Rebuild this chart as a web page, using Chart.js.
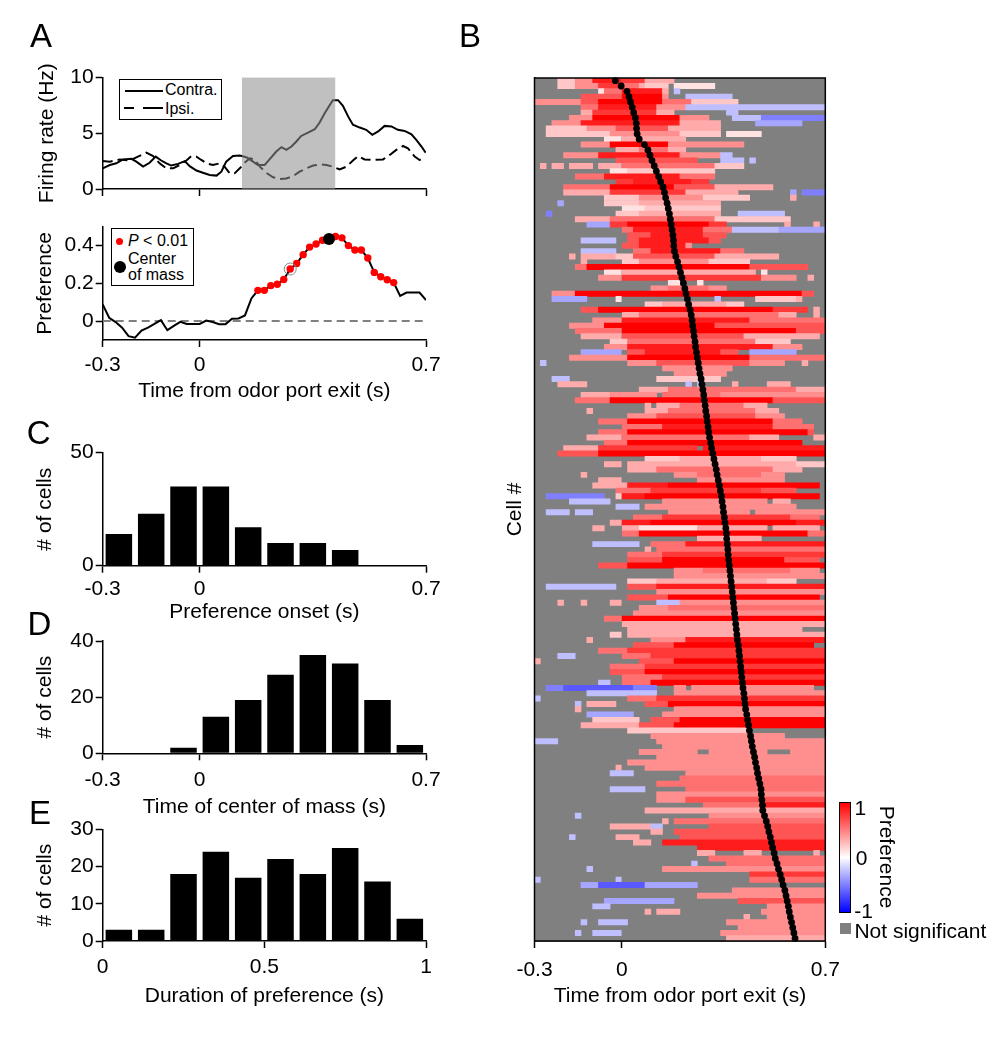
<!DOCTYPE html>
<html>
<head>
<meta charset="utf-8">
<title>Preference of cells around odor port exit</title>
<script src="https://cdn.jsdelivr.net/npm/chart.js@4.4.1/dist/chart.umd.min.js"></script>
<style>
  html, body { margin:0; padding:0; background:#fff; }
  body { width:1008px; height:1038px; position:relative; overflow:hidden;
         font-family:"Liberation Sans", Arial, Helvetica, sans-serif; color:#000; }
  canvas { position:absolute; }
  .t { position:absolute; white-space:nowrap; }
  .panel { font-size:33px; line-height:33px; }
  .lg { font-size:16px; line-height:16px; }
  .cb { font-size:21px; line-height:21px; }
</style>
</head>
<body>
<canvas id="cA1" width="440" height="216" style="left:0px;top:0px"></canvas>
<canvas id="cA2" width="440" height="208" style="left:0px;top:200px"></canvas>
<canvas id="cC" width="440" height="210" style="left:0px;top:420px"></canvas>
<canvas id="cD" width="440" height="200" style="left:0px;top:625px"></canvas>
<canvas id="cE" width="440" height="197" style="left:0px;top:815px"></canvas>
<canvas id="cB" width="380" height="1014" style="left:460px;top:0px"></canvas>

<div class="t panel" style="left:30px;top:18.7px">A</div>
<div class="t panel" style="left:459px;top:18.7px">B</div>
<div class="t panel" style="left:26.7px;top:415.7px">C</div>
<div class="t panel" style="left:27.4px;top:606.7px">D</div>
<div class="t panel" style="left:29px;top:795.7px">E</div>

<!-- legend panel A (top) -->
<div class="t" style="left:119px;top:79px;width:103px;height:41px;border:1px solid #000;box-sizing:border-box;background:#fff"></div>
<div class="t" style="left:125px;top:90px;width:38px;height:2px;background:#000"></div>
<div class="t lg" style="left:165px;top:82.2px">Contra.</div>
<div class="t" style="left:124px;top:107px;width:10px;height:2px;background:#000"></div>
<div class="t" style="left:143px;top:107px;width:20px;height:2px;background:#000"></div>
<div class="t lg" style="left:165px;top:101px">Ipsi.</div>

<!-- legend panel A (bottom) -->
<div class="t" style="left:111px;top:228px;width:83px;height:58px;border:1px solid #000;box-sizing:border-box;background:#fff"></div>
<div class="t" style="left:116px;top:237.5px;width:7px;height:7px;border-radius:50%;background:#f00"></div>
<div class="t lg" style="left:128px;top:232.5px"><i>P</i> &lt; 0.01</div>
<div class="t" style="left:113.5px;top:260.7px;width:12px;height:12px;border-radius:50%;background:#000"></div>
<div class="t lg" style="left:128px;top:251px">Center</div>
<div class="t lg" style="left:128px;top:266.5px">of mass</div>

<!-- colour bar panel B -->
<div class="t" style="left:839px;top:802px;width:12px;height:111px;border:1px solid #000;box-sizing:border-box;background:linear-gradient(to bottom,#ff0000,#ffffff,#0000ff)"></div>
<div class="t cb" style="left:854.4px;top:796.7px">1</div>
<div class="t cb" style="left:855.8px;top:847px">0</div>
<div class="t cb" style="left:854.3px;top:899.7px">-1</div>
<div class="t cb" style="left:886.7px;top:856.7px;transform:translate(-50%,-50%) rotate(90deg)">Preference</div>
<div class="t" style="left:840px;top:923px;width:11px;height:11px;background:#808080"></div>
<div class="t cb" style="left:854.4px;top:919.5px">Not significant</div>

<script>
// ===================== DATA =====================
const T_TICKS = [-0.3, 0, 0.7];
const T_TICK_LABELS = ['-0.3', '0', '0.7'];

// Panel A (top): firing rate
const rateYTicks = [0, 5, 10];
const rateYLabels = ['0', '5', '10'];
const contraT = [-0.30,-0.278,-0.258,-0.237,-0.211,-0.196,-0.175,-0.155,-0.136,-0.119,-0.103,-0.088,-0.067,-0.046,-0.031,-0.010,0.010,0.031,0.052,0.067,0.082,0.103,0.124,0.144,0.165,0.180,0.201,0.216,0.237,0.253,0.268,0.284,0.299,0.314,0.335,0.356,0.371,0.387,0.402,0.412,0.428,0.443,0.459,0.474,0.495,0.515,0.534,0.552,0.572,0.593,0.613,0.634,0.655,0.670,0.686,0.699];
const contraHz = [1.85,2.15,2.3,2.65,2.7,2.45,2.0,2.35,2.9,2.55,2.3,2.1,2.25,2.5,2.05,1.65,1.45,1.25,1.2,1.55,2.45,2.95,3.0,2.85,2.45,2.15,2.15,2.65,3.35,3.75,3.5,3.8,4.25,4.75,5.05,5.35,5.95,6.8,7.5,7.95,7.95,7.45,6.5,5.75,5.5,5.3,4.85,5.15,5.65,5.6,5.3,5.2,4.9,4.4,3.8,3.25];
const ipsiT = [-0.30,-0.278,-0.247,-0.216,-0.191,-0.165,-0.144,-0.124,-0.103,-0.082,-0.062,-0.041,-0.026,-0.010,0.005,0.021,0.041,0.062,0.077,0.093,0.108,0.124,0.139,0.155,0.170,0.186,0.206,0.227,0.247,0.268,0.289,0.309,0.330,0.351,0.371,0.392,0.412,0.433,0.454,0.474,0.490,0.510,0.536,0.567,0.588,0.608,0.629,0.644,0.665,0.680,0.699];
const ipsiHz = [2.5,2.45,2.65,2.55,2.9,3.25,2.95,2.3,1.85,1.85,2.15,2.55,2.95,2.9,2.6,2.3,2.15,2.3,2.0,1.4,1.4,1.85,2.35,2.75,2.65,2.0,1.45,1.05,0.9,0.95,1.15,1.55,1.85,2.1,2.2,2.15,2.0,1.75,2.0,2.55,2.95,2.65,2.6,2.65,3.05,3.5,3.85,3.65,2.9,2.6,2.75];
const shadeT = [0.13, 0.42];
const shadeTop = 10;

// Panel A (bottom): preference
const prefYTicks = [0, 0.2, 0.4];
const prefYLabels = ['0', '0.2', '0.4'];
const prefT = [-0.30,-0.28,-0.26,-0.24,-0.22,-0.20,-0.18,-0.16,-0.14,-0.12,-0.10,-0.08,-0.06,-0.04,-0.02,0.00,0.02,0.04,0.06,0.08,0.10,0.12,0.14,0.16,0.18,0.20,0.22,0.24,0.26,0.28,0.30,0.32,0.34,0.36,0.38,0.40,0.42,0.44,0.46,0.48,0.50,0.52,0.54,0.56,0.58,0.60,0.62,0.64,0.66,0.68,0.70];
const prefVal = [0.089,0.018,-0.005,-0.035,-0.08,-0.088,-0.05,-0.035,-0.015,0.005,-0.048,-0.025,-0.004,-0.015,-0.015,-0.015,0.003,-0.005,-0.016,-0.016,0.012,0.014,0.03,0.12,0.163,0.163,0.188,0.195,0.22,0.276,0.305,0.352,0.392,0.408,0.428,0.435,0.448,0.441,0.40,0.377,0.377,0.334,0.258,0.235,0.219,0.204,0.133,0.151,0.151,0.151,0.112];
const sigT = [0.18,0.20,0.22,0.24,0.26,0.28,0.30,0.32,0.34,0.36,0.38,0.40,0.42,0.44,0.46,0.48,0.50,0.52,0.54,0.56,0.58,0.60];
const comExample = { t: 0.40, v: 0.435 };
const markedPoint = { t: 0.28, v: 0.276 };

// Panels C, D, E: histograms
const histCenters = [-0.25,-0.15,-0.05,0.05,0.15,0.25,0.35,0.45,0.55,0.65];
const onsetCounts = [14,23,35,35,17,10,10,7,0,0];
const onsetYTicks = [0, 50], onsetYLabels = ['0', '50'];
const comCounts = [0,0,2,13,19,28,35,32,19,3];
const comYTicks = [0, 20, 40], comYLabels = ['0', '20', '40'];
const durCenters = [0.05,0.15,0.25,0.35,0.45,0.55,0.65,0.75,0.85,0.95];
const durCounts = [3,3,18,24,17,22,18,25,16,6];
const durYTicks = [0, 10, 20, 30], durYLabels = ['0', '10', '20', '30'];
const durXTicks = [0, 0.5, 1], durXLabels = ['0', '0.5', '1'];

// Panel B: heat map, one row per cell, run-length coded 20 ms bins from -0.3 s
// run = level char + count; '.' not significant, '1'-'9' positive, 'a'-'f' negative
const HEAT_T0 = -0.3, HEAT_BIN = 0.02, HEAT_NBINS = 50;
const heatRows = [
".4 23 43 85 74 35",
".4 23 44 74 53 31 24 .1 17",
".11 11 53 87 31 .1 b1",
".8 67 97 41 .3 b8",
"48 63 911 55 28",
".8 53 810 45 b24",
".8 32 711 33 .9 b2",
".6 44 915 45 .4 b5 d11",
".3 45 817 37 .6 c8",
".2 27 45 69 39",
".2 211 412 27 .1 16",
".12 13 311",
".8 45 910 413",
".14 34 55 33",
".5 46 814 47 b2",
".14 614 .4 b4 .1 b1",
".1 31 .1 32 .1 34 .1 34 516 25",
".13 13 215",
".7 55 813 56",
".14 73 810 73",
".5 58 911 67 310",
".5 38 713 39 .9 c1 .1 d4",
".12 26 411 28 .7 31",
".4 c1 .7 26 314",
".15 14 213",
".2 d1 .11 24 314 .3 b8",
".7 36 518 213",
".9 c4 73 914 73 .10 31 .4 31",
".15 52 812 55 b8 c8",
".16 64 89 64",
".8 b6 .2 62 812 62",
".15 63 88 41",
".8 b6 .3 53 812 54",
".6 31 .1 36 23 614 311",
".8 31 .6 23 412 27",
".7 52 928 610",
".12 13 323 .1 11",
".11 44 724 46 .2 31",
".23 12 .3 11",
".20 43 57 43",
".3 44 939 62",
".3 c6 .5 11 .16 b1 .6 27 31",
".19 23 311 23",
".8 63 930 76 .1 31",
".15 33 524 33 .3 31",
".10 45 822 513",
".6 46 919 619",
".7 58 930 65",
".8 37 621 313",
".13 23 522 26",
".12 44 825 45",
".8 c7 .1 63 813 63 .2 c8",
".6 410 921 513",
".1 b1 .14 45 616 46 .3 31",
".22 412",
".24 49",
".3 b3 .15 211",
".4 35 .17 b1 .1 b1 .5 31 .5 34",
".18 35 522 35",
".8 35 48 .1 510 418",
".7 56 928 69",
".19 31 .1 34 511 34",
".9 31 .9 34 515 34",
".16 45 617 45",
".11 55 925 55",
".15 57 819 57",
".11 55 931 61",
".9 36 522 35 .6 32",
".12 54 930",
".5 36 717 .1 821",
".4 67 939",
".19 26 314 26",
".12 33 .1 329 25",
".16 35 520 35",
".8 31 .15 44 511 44",
".11 34 .13 415",
".10 36 87 926",
".14 56 719 66",
".2 d10 .2 21 84 930",
".6 b7 .9 418 .1 33",
".14 b4 .1 426",
".2 b4 .1 b3 .13 414 .1 413",
".17 55 722 55",
".13 32 85 925 85",
".10 32 .3 33 110 312 .1 38",
".15 53 929 53",
".28 311",
".10 b8 .2 56 824",
".19 31 .1 529",
".16 56 722 76",
".16 66 921 66",
".11 65 934",
".24 45 515 45",
".24 426",
".16 25 319 25",
".2 b12 .2 65 829",
".21 429",
".16 67 926",
".4 31 .3 31 .4 32 .6 b4 425",
".18 45 527",
".17 433",
".12 53 935",
".15 335",
".16 330",
".13 22 .1 334",
".9 31 .10 46 824",
".17 67 924",
".11 55 734",
".4 b3 .8 55 730",
"31 .17 66 929",
".13 56 731",
".13 66 931",
".15 57 728",
".11 b2 .2 55 930",
".2 d3 e12 d4 .3 42 .1 421",
".9 b12 .3 427",
"b1 .15 55 729",
".7 b1 .1 35 .5 64 927",
".7 31 .16 426",
".9 c8 .5 428",
".10 28 .2 65 925",
".8 310 66 926",
".16 221",
".20 423",
"b4 .17 429",
".22 428",
".18 410 .2 410 .4 46",
".21 429",
".16 434",
".14 31 .4 431",
".13 b4 .9 424",
".25 525",
".21 529",
".13 b6 .7 524",
".21 429",
".21 45 624",
".29 510 811",
".19 331",
".7 b1 .22 420",
".22 31 .1 526",
".13 37 b2 .8 620",
".20 32 .2 626",
".6 b1 .7 34 .7 625",
".17 33 .2 828",
".28 822",
".28 33 .5 33 .9 31",
".30 520",
".27 b1 .5 517",
".9 b1 .12 428",
".37 713",
"b1 .13 b1 .22 513",
".8 c3 e8 c9",
".34 416",
".28 422",
".12 c12 .11 615",
".10 b3 .27 410",
".19 31 .1 34 .14 411",
".36 31 .3 410",
".8 b1 .2 b5 .17 417",
".35 415",
".7 b1 .2 b5 .17 418",
".33 317"
];
const heatCom = [
-0.022,-0.002,0.018,0.025,0.030,0.036,0.041,0.047,0.050,0.051,
0.053,0.060,0.078,0.090,0.097,0.104,0.112,0.119,0.127,0.134,
0.142,0.147,0.151,0.156,0.160,0.164,0.167,0.170,0.173,0.176,
0.178,0.179,0.181,0.186,0.192,0.197,0.202,0.207,0.212,0.217,
0.221,0.226,0.230,0.235,0.239,0.242,0.244,0.247,0.249,0.252,
0.254,0.257,0.260,0.263,0.266,0.269,0.273,0.276,0.279,0.282,
0.284,0.287,0.289,0.292,0.294,0.297,0.299,0.302,0.306,0.309,
0.313,0.317,0.321,0.325,0.328,0.332,0.336,0.339,0.343,0.345,
0.348,0.350,0.353,0.355,0.358,0.360,0.361,0.363,0.365,0.366,
0.368,0.370,0.372,0.374,0.376,0.378,0.380,0.382,0.384,0.386,
0.388,0.390,0.392,0.394,0.396,0.398,0.401,0.403,0.405,0.407,
0.409,0.411,0.413,0.415,0.417,0.420,0.422,0.424,0.426,0.430,
0.433,0.436,0.439,0.443,0.446,0.449,0.453,0.457,0.460,0.464,
0.467,0.471,0.475,0.479,0.480,0.482,0.484,0.485,0.491,0.497,
0.502,0.506,0.511,0.515,0.519,0.524,0.528,0.534,0.539,0.545,
0.550,0.555,0.561,0.565,0.569,0.573,0.576,0.580,0.584,0.588,
0.592,0.596];
const levelValue = {'1':0.11,'2':0.22,'3':0.33,'4':0.44,'5':0.56,'6':0.67,'7':0.78,'8':0.89,'9':1.0,
                    'a':-0.15,'b':-0.25,'c':-0.35,'d':-0.5,'e':-0.65,'f':-0.8};
const NS_GREY = '#808080';

// ===================== HELPERS =====================
Chart.defaults.font.family = '"Liberation Sans", Arial, Helvetica, sans-serif';
Chart.defaults.font.size = 21;
Chart.defaults.color = '#000';

function pick(vals, labels) {
  return function (v) {
    for (let i = 0; i < vals.length; i++) if (Math.abs(vals[i] - v) < 1e-9) return labels[i];
    return '';
  };
}
function xAxis(o) {
  return {
    type: 'linear', min: o.min, max: o.max, bounds: 'data', offset: false, z: o.z || 0,
    afterBuildTicks: (a) => { a.ticks = o.ticks.map((v) => ({ value: v })); },
    afterFit: (a) => { a.height = o.h; a.paddingLeft = 0; a.paddingRight = 0; },
    ticks: { display: !!o.labels, padding: o.pad || 0, autoSkip: false, maxRotation: 0, minRotation: 0,
             callback: o.labels ? pick(o.ticks, o.labels) : () => '', color: '#000', font: { size: 21 } },
    grid: { display: true, drawOnChartArea: !!o.gridColor, color: o.gridColor || 'rgba(0,0,0,0)', lineWidth: 1,
            drawTicks: true, tickLength: 7, tickColor: '#000', tickWidth: 1.5, offset: false },
    border: { display: true, color: '#000', width: 1.5 },
    title: o.title ? { display: true, text: o.title, color: '#000', font: { size: 21 },
                       padding: { top: 0, bottom: o.titlePad } } : { display: false }
  };
}
function yAxis(o) {
  return {
    type: 'linear', min: o.min, max: o.max, bounds: 'data',
    afterBuildTicks: (a) => { a.ticks = o.ticks.map((v) => ({ value: v })); },
    afterFit: (a) => { a.width = o.w; a.paddingTop = 0; a.paddingBottom = 0; },
    ticks: { padding: 2, autoSkip: false, callback: pick(o.ticks, o.labels), color: '#000', font: { size: 21 } },
    grid: { display: true, drawOnChartArea: false, drawTicks: true, tickLength: 7, tickColor: '#000', tickWidth: 1.5 },
    border: { display: true, color: '#000', width: 1.5 },
    title: { display: true, text: o.title, color: '#000', font: { size: 21 }, padding: { top: o.titlePad, bottom: 0 } }
  };
}
const BASE = { responsive: false, animation: false, events: [], devicePixelRatio: 1,
               plugins: { legend: { display: false }, tooltip: { enabled: false } } };
const pts = (xs, ys) => xs.map((x, i) => ({ x: x, y: ys[i] }));

// ===================== PANEL A top =====================
new Chart(document.getElementById('cA1'), {
  type: 'line',
  data: { datasets: [
    { data: [{ x: shadeT[0], y: shadeTop }, { x: shadeT[1], y: shadeTop }], fill: 'origin',
      backgroundColor: 'rgba(143,143,143,0.56)', borderColor: 'rgba(0,0,0,0)', borderWidth: 1, pointRadius: 0, order: 0 },
    { data: pts(contraT, contraHz), borderColor: '#000', borderWidth: 2, pointRadius: 0, fill: false, tension: 0, order: 2 },
    { data: pts(ipsiT, ipsiHz), borderColor: '#000', borderWidth: 2, borderDash: [10, 5], pointRadius: 0, fill: false, tension: 0, order: 1 }
  ] },
  options: { ...BASE, layout: { padding: { top: 77.3, right: 14, bottom: 0, left: 0 } },
    scales: {
      x: xAxis({ min: -0.3, max: 0.7, ticks: T_TICKS, labels: null, h: 27 }),
      y: yAxis({ min: 0, max: 10, ticks: rateYTicks, labels: rateYLabels, w: 102.7, title: 'Firing rate (Hz)', titlePad: 34.4 })
    } }
});

// ===================== PANEL A bottom =====================
const sigVals = sigT.map((t) => prefVal[prefT.findIndex((p) => Math.abs(p - t) < 1e-6)]);
new Chart(document.getElementById('cA2'), {
  type: 'line',
  data: { datasets: [
    { data: [{ x: -0.3, y: 0 }, { x: 0.7, y: 0 }], borderColor: '#808080', borderWidth: 2, borderDash: [8, 5], pointRadius: 0, order: 5 },
    { data: pts(prefT, prefVal), borderColor: '#000', borderWidth: 2, pointRadius: 0, tension: 0, order: 4 },
    { data: pts(sigT, sigVals), showLine: false, pointRadius: 3.7, pointBackgroundColor: '#ff0000', pointBorderWidth: 0, order: 3 },
    { data: [{ x: markedPoint.t, y: markedPoint.v }], showLine: false, pointRadius: 6, pointBackgroundColor: 'rgba(0,0,0,0)',
      pointBorderColor: '#8c8c8c', pointBorderWidth: 1, order: 1 },
    { data: [{ x: comExample.t, y: comExample.v }], showLine: false, pointRadius: 6, pointBackgroundColor: '#000', pointBorderWidth: 0, order: 0 }
  ] },
  options: { ...BASE, layout: { padding: { top: 26.7, right: 14, bottom: 0, left: 0 } },
    scales: {
      x: xAxis({ min: -0.3, max: 0.7, ticks: T_TICKS, labels: T_TICK_LABELS, h: 68, pad: 5.9, title: 'Time from odor port exit (s)', titlePad: 3.7 }),
      y: yAxis({ min: -0.1, max: 0.5, ticks: prefYTicks, labels: prefYLabels, w: 102.7, title: 'Preference', titlePad: 32.4 })
    } }
});

// ===================== HISTOGRAMS =====================
function histChart(id, centers, counts, xo, yo, padTop) {
  return new Chart(document.getElementById(id), {
    type: 'bar',
    data: { datasets: [{ data: pts(centers, counts), backgroundColor: '#000', borderWidth: 0,
                         barPercentage: 0.82, categoryPercentage: 1 }] },
    options: { ...BASE, layout: { padding: { top: padTop, right: 14, bottom: 0, left: 0 } },
               scales: { x: xAxis(xo), y: yAxis(yo) } }
  });
}
histChart('cC', histCenters, onsetCounts,
  { min: -0.3, max: 0.7, ticks: T_TICKS, labels: T_TICK_LABELS, h: 64.3, pad: 3.7, title: 'Preference onset (s)', titlePad: 5.4 },
  { min: 0, max: 50, ticks: onsetYTicks, labels: onsetYLabels, w: 102.7, title: '# of cells', titlePad: 32.4 }, 32.7);
histChart('cD', histCenters, comCounts,
  { min: -0.3, max: 0.7, ticks: T_TICKS, labels: T_TICK_LABELS, h: 71.7, pad: 7.1, title: 'Time of center of mass (s)', titlePad: 5.1 },
  { min: 0, max: 40, ticks: comYTicks, labels: comYLabels, w: 102.7, title: '# of cells', titlePad: 32.4 }, 16);
histChart('cE', durCenters, durCounts,
  { min: 0, max: 1, ticks: durXTicks, labels: durXLabels, h: 71, pad: 6.9, title: 'Duration of preference (s)', titlePad: 3.4 },
  { min: 0, max: 30, ticks: durYTicks, labels: durYLabels, w: 102.7, title: '# of cells', titlePad: 32.4 }, 14.3);

// ===================== PANEL B heat map =====================
function levelColor(v) {
  if (v >= 0) { const c = Math.round(255 * (1 - v)); return 'rgb(255,' + c + ',' + c + ')'; }
  const c = Math.round(255 * (1 + v)); return 'rgb(' + c + ',' + c + ',255)';
}
const rowLabels = heatRows.map((_, i) => String(i + 1));
const heatCells = [], heatColors = [];
heatRows.forEach((spec, r) => {
  let j = 0;
  spec.trim().split(/\s+/).forEach((tok) => {
    const lv = tok.charAt(0), n = parseInt(tok.slice(1), 10);
    if (lv !== '.' && j < HEAT_NBINS) {
      const e = Math.min(j + n, HEAT_NBINS);
      heatCells.push({ x: [HEAT_T0 + j * HEAT_BIN, HEAT_T0 + e * HEAT_BIN], y: rowLabels[r] });
      heatColors.push(levelColor(levelValue[lv]));
    }
    j += n;
  });
});
const heatFrame = {
  id: 'heatFrame',
  beforeDatasetsDraw(chart) {
    const a = chart.chartArea, ctx = chart.ctx;
    ctx.save(); ctx.fillStyle = NS_GREY; ctx.fillRect(a.left, a.top, a.right - a.left, a.bottom - a.top); ctx.restore();
  },
  afterDraw(chart) {
    const a = chart.chartArea, ctx = chart.ctx;
    ctx.save(); ctx.strokeStyle = '#000'; ctx.lineWidth = 1.5;
    ctx.strokeRect(a.left, a.top, a.right - a.left, a.bottom - a.top); ctx.restore();
  }
};
new Chart(document.getElementById('cB'), {
  type: 'bar',
  data: { labels: rowLabels, datasets: [
    { type: 'scatter', indexAxis: 'x', data: heatCom.map((t, i) => ({ x: t, y: rowLabels[i] })),
      pointRadius: 3.4, backgroundColor: '#000', pointBackgroundColor: '#000', borderWidth: 0, pointBorderWidth: 0, order: 0 },
    { type: 'bar', data: heatCells, backgroundColor: heatColors, borderWidth: 0,
      barPercentage: 1, categoryPercentage: 1, order: 1 }
  ] },
  options: { ...BASE, indexAxis: 'y',
    layout: { padding: { top: 78, right: 14.7, bottom: 0, left: 0 } },
    scales: {
      x: xAxis({ min: -0.3, max: 0.7, ticks: T_TICKS, labels: T_TICK_LABELS, h: 73, pad: 9.4,
                 title: 'Time from odor port exit (s)', titlePad: 4.9, z: 1,
                 gridColor: (ctx) => (ctx.tick && Math.abs(ctx.tick.value) < 1e-9) ? '#000' : 'rgba(0,0,0,0)' }),
      y: { type: 'category', offset: true,
           afterFit: (a) => { a.width = 74.5; a.paddingTop = 0; a.paddingBottom = 0; },
           ticks: { display: false }, grid: { display: false },
           border: { display: true, color: '#000', width: 1.5 },
           title: { display: true, text: 'Cell #', color: '#000', font: { size: 21 }, padding: { top: 42.4, bottom: 0 } } }
    } },
  plugins: [heatFrame]
});
</script>
</body>
</html>
